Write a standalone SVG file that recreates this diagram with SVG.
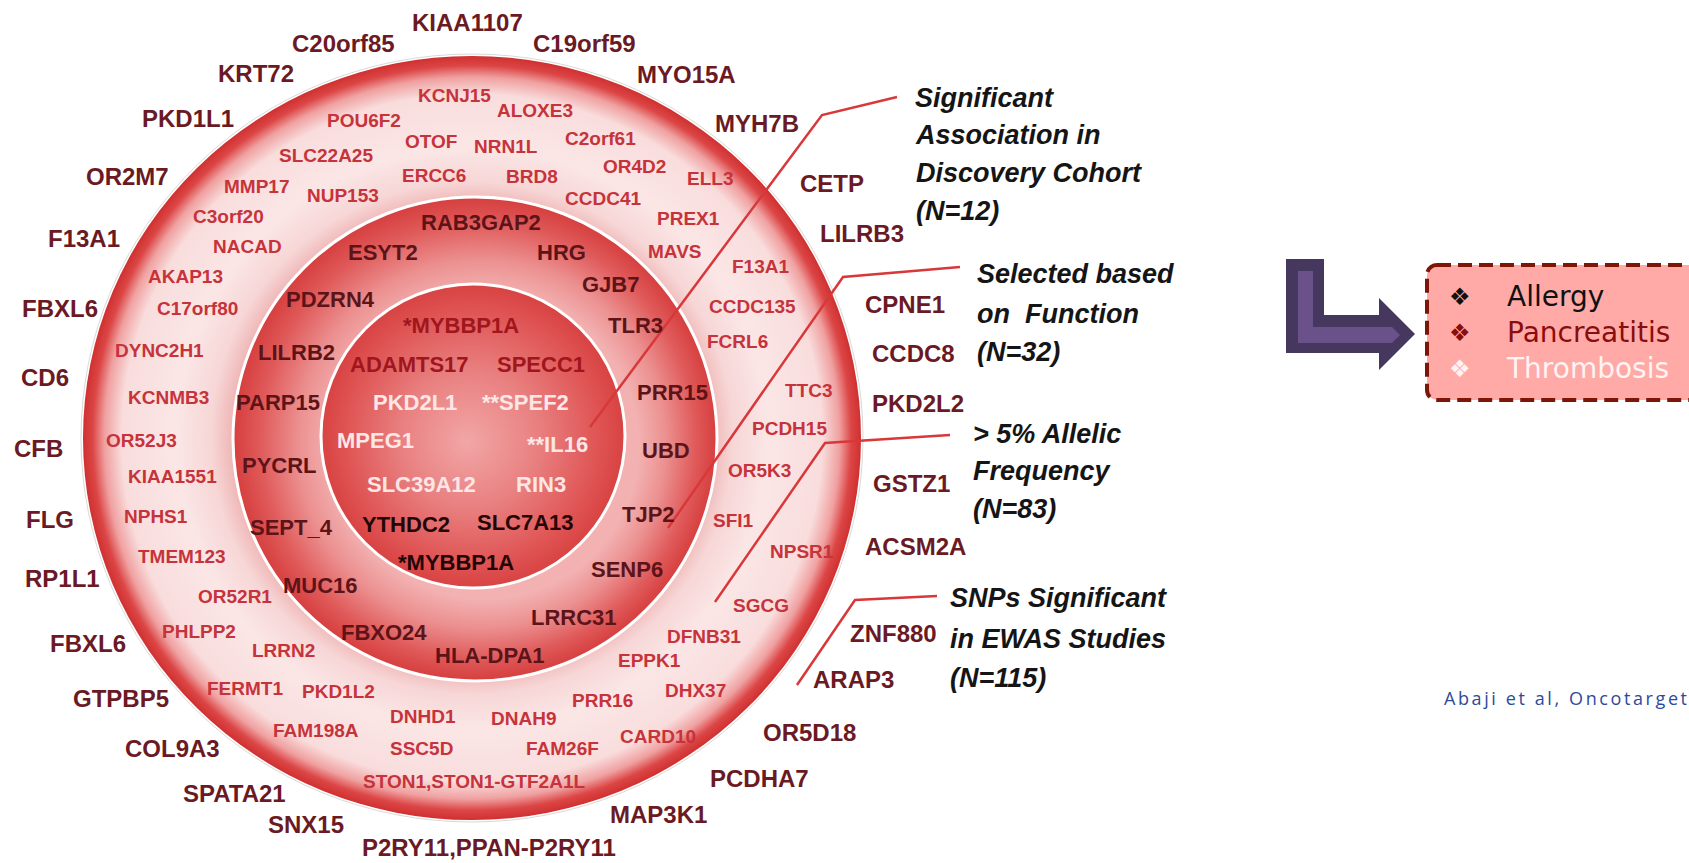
<svg xmlns="http://www.w3.org/2000/svg" width="1689" height="863" viewBox="0 0 1689 863">
<defs>
<radialGradient id="gOuter" cx="0.5" cy="0.5" r="0.5">
<stop offset="0" stop-color="#f4c4c4"/>
<stop offset="0.62" stop-color="#f0b8b8"/>
<stop offset="0.67" stop-color="#f7d6d6"/>
<stop offset="0.76" stop-color="#fbe6e6"/>
<stop offset="0.90" stop-color="#f9dddd"/>
<stop offset="0.945" stop-color="#f0a0a0"/>
<stop offset="0.975" stop-color="#dc4646"/>
<stop offset="1" stop-color="#d03030"/>
</radialGradient>
<radialGradient id="gMid" cx="0.5" cy="0.5" r="0.5" fx="0.56" fy="0.54">
<stop offset="0" stop-color="#f2aaaa"/>
<stop offset="0.63" stop-color="#f3b2b2"/>
<stop offset="0.76" stop-color="#ec9090"/>
<stop offset="0.9" stop-color="#e05a5a"/>
<stop offset="1" stop-color="#d63e3e"/>
</radialGradient>
<radialGradient id="gIn" cx="0.5" cy="0.5" r="0.5" fx="0.48" fy="0.52">
<stop offset="0" stop-color="#f2a6a6"/>
<stop offset="0.45" stop-color="#e98080"/>
<stop offset="0.85" stop-color="#df5252"/>
<stop offset="1" stop-color="#d84242"/>
</radialGradient>
<style>
text{font-family:"Liberation Sans",Arial,sans-serif;font-weight:bold}
.o{font-size:24px;fill:#6b1a24}
.r{font-size:19px;fill:#c6333a}
.m{font-size:22px;fill:#5c1419}
.i{font-size:22px}
.ir{fill:#a0161c}
.iw{fill:#fde6e6}
.ik{fill:#240606}
.cat{font-size:27px;font-style:italic;fill:#151515}
.conn{fill:none;stroke:#d9383a;stroke-width:2.5}
.leg{font-family:"DejaVu Sans",sans-serif;font-weight:normal;font-size:28px}
.bul{font-family:"DejaVu Sans",sans-serif;font-weight:normal;font-size:24px}
</style>
</defs>
<rect width="1689" height="863" fill="#ffffff"/>

<g id="rings">
<ellipse cx="472" cy="438" rx="391" ry="384" fill="none" stroke="#d9d9d9" stroke-width="1"/>
<ellipse id="ring-outer" cx="472" cy="438" rx="389" ry="382" fill="url(#gOuter)"/>
<circle id="ring-middle" cx="475" cy="439" r="242" fill="url(#gMid)" stroke="#ffffff" stroke-width="3"/>
<circle id="ring-inner" cx="473" cy="436" r="152" fill="url(#gIn)" stroke="#ffffff" stroke-width="3"/>
</g>

<g id="connectors">
<polyline class="conn" points="590,427 822,115 897,97"/>
<polyline class="conn" points="668,528 843,277 960,267"/>
<polyline class="conn" points="715,602 825,443 950,435"/>
<polyline class="conn" points="797,685 855,600 937,596"/>
</g>

<g id="outer-genes">
<text class="o" x="412" y="31">KIAA1107</text>
<text class="o" x="292" y="52">C20orf85</text>
<text class="o" x="533" y="52">C19orf59</text>
<text class="o" x="218" y="82">KRT72</text>
<text class="o" x="637" y="83">MYO15A</text>
<text class="o" x="142" y="127">PKD1L1</text>
<text class="o" x="715" y="132">MYH7B</text>
<text class="o" x="86" y="185">OR2M7</text>
<text class="o" x="800" y="192">CETP</text>
<text class="o" x="820" y="242">LILRB3</text>
<text class="o" x="48" y="247">F13A1</text>
<text class="o" x="865" y="313">CPNE1</text>
<text class="o" x="22" y="317">FBXL6</text>
<text class="o" x="872" y="362">CCDC8</text>
<text class="o" x="21" y="386">CD6</text>
<text class="o" x="872" y="412">PKD2L2</text>
<text class="o" x="14" y="457">CFB</text>
<text class="o" x="873" y="492">GSTZ1</text>
<text class="o" x="26" y="528">FLG</text>
<text class="o" x="865" y="555">ACSM2A</text>
<text class="o" x="25" y="587">RP1L1</text>
<text class="o" x="850" y="642">ZNF880</text>
<text class="o" x="50" y="652">FBXL6</text>
<text class="o" x="813" y="688">ARAP3</text>
<text class="o" x="73" y="707">GTPBP5</text>
<text class="o" x="763" y="741">OR5D18</text>
<text class="o" x="125" y="757">COL9A3</text>
<text class="o" x="710" y="787">PCDHA7</text>
<text class="o" x="183" y="802">SPATA21</text>
<text class="o" x="610" y="823">MAP3K1</text>
<text class="o" x="268" y="833">SNX15</text>
<text class="o" x="362" y="856">P2RY11,PPAN-P2RY11</text>
</g>

<g id="outer-ring-genes">
<text class="r" x="418" y="102">KCNJ15</text>
<text class="r" x="497" y="117">ALOXE3</text>
<text class="r" x="327" y="127">POU6F2</text>
<text class="r" x="565" y="145">C2orf61</text>
<text class="r" x="405" y="148">OTOF</text>
<text class="r" x="474" y="153">NRN1L</text>
<text class="r" x="279" y="162">SLC22A25</text>
<text class="r" x="603" y="173">OR4D2</text>
<text class="r" x="402" y="182">ERCC6</text>
<text class="r" x="506" y="183">BRD8</text>
<text class="r" x="687" y="185">ELL3</text>
<text class="r" x="224" y="193">MMP17</text>
<text class="r" x="307" y="202">NUP153</text>
<text class="r" x="565" y="205">CCDC41</text>
<text class="r" x="193" y="223">C3orf20</text>
<text class="r" x="657" y="225">PREX1</text>
<text class="r" x="213" y="253">NACAD</text>
<text class="r" x="648" y="258">MAVS</text>
<text class="r" x="732" y="273">F13A1</text>
<text class="r" x="148" y="283">AKAP13</text>
<text class="r" x="709" y="313">CCDC135</text>
<text class="r" x="157" y="315">C17orf80</text>
<text class="r" x="707" y="348">FCRL6</text>
<text class="r" x="115" y="357">DYNC2H1</text>
<text class="r" x="785" y="397">TTC3</text>
<text class="r" x="128" y="404">KCNMB3</text>
<text class="r" x="752" y="435">PCDH15</text>
<text class="r" x="106" y="447">OR52J3</text>
<text class="r" x="728" y="477">OR5K3</text>
<text class="r" x="128" y="483">KIAA1551</text>
<text class="r" x="124" y="523">NPHS1</text>
<text class="r" x="713" y="527">SFI1</text>
<text class="r" x="770" y="558">NPSR1</text>
<text class="r" x="138" y="563">TMEM123</text>
<text class="r" x="198" y="603">OR52R1</text>
<text class="r" x="733" y="612">SGCG</text>
<text class="r" x="162" y="638">PHLPP2</text>
<text class="r" x="667" y="643">DFNB31</text>
<text class="r" x="252" y="657">LRRN2</text>
<text class="r" x="618" y="667">EPPK1</text>
<text class="r" x="207" y="695">FERMT1</text>
<text class="r" x="665" y="697">DHX37</text>
<text class="r" x="302" y="698">PKD1L2</text>
<text class="r" x="572" y="707">PRR16</text>
<text class="r" x="390" y="723">DNHD1</text>
<text class="r" x="491" y="725">DNAH9</text>
<text class="r" x="273" y="737">FAM198A</text>
<text class="r" x="620" y="743">CARD10</text>
<text class="r" x="390" y="755">SSC5D</text>
<text class="r" x="526" y="755">FAM26F</text>
<text class="r" x="363" y="788">STON1,STON1-GTF2A1L</text>
</g>

<g id="middle-ring-genes">
<text class="m" x="421" y="230">RAB3GAP2</text>
<text class="m" x="348" y="260">ESYT2</text>
<text class="m" x="537" y="260">HRG</text>
<text class="m" x="582" y="292">GJB7</text>
<text class="m" x="286" y="307">PDZRN4</text>
<text class="m" x="608" y="333">TLR3</text>
<text class="m" x="258" y="360">LILRB2</text>
<text class="m" x="637" y="400">PRR15</text>
<text class="m" x="236" y="410">PARP15</text>
<text class="m" x="642" y="458">UBD</text>
<text class="m" x="242" y="473">PYCRL</text>
<text class="m" x="622" y="522">TJP2</text>
<text class="m" x="250" y="535">SEPT_4</text>
<text class="m" x="591" y="577">SENP6</text>
<text class="m" x="283" y="593">MUC16</text>
<text class="m" x="531" y="625">LRRC31</text>
<text class="m" x="341" y="640">FBXO24</text>
<text class="m" x="435" y="663">HLA-DPA1</text>
</g>

<g id="inner-genes">
<text class="i ir" x="403" y="333">*MYBBP1A</text>
<text class="i ir" x="350" y="372">ADAMTS17</text>
<text class="i ir" x="497" y="372">SPECC1</text>
<text class="i iw" x="373" y="410">PKD2L1</text>
<text class="i iw" x="482" y="410">**SPEF2</text>
<text class="i iw" x="337" y="448">MPEG1</text>
<text class="i iw" x="527" y="452">**IL16</text>
<text class="i iw" x="367" y="492">SLC39A12</text>
<text class="i iw" x="516" y="492">RIN3</text>
<text class="i ik" x="362" y="532">YTHDC2</text>
<text class="i ik" x="477" y="530">SLC7A13</text>
<text class="i ik" x="398" y="570">*MYBBP1A</text>
</g>

<g id="cat-discovery">
<text class="cat" x="915" y="107">Significant</text>
<text class="cat" x="916" y="144">Association in</text>
<text class="cat" x="916" y="182">Discovery Cohort</text>
<text class="cat" x="916" y="220">(N=12)</text>
</g>
<g id="cat-function">
<text class="cat" x="977" y="283">Selected based</text>
<text class="cat" x="977" y="323" xml:space="preserve">on  Function</text>
<text class="cat" x="977" y="361">(N=32)</text>
</g>
<g id="cat-allelic">
<text class="cat" x="973" y="443">&gt; 5% Allelic</text>
<text class="cat" x="973" y="480">Frequency</text>
<text class="cat" x="973" y="518">(N=83)</text>
</g>
<g id="cat-ewas">
<text class="cat" x="950" y="607">SNPs Significant</text>
<text class="cat" x="950" y="648">in EWAS Studies</text>
<text class="cat" x="950" y="687">(N=115)</text>
</g>

<g id="arrow">
<polygon points="1286,259 1324,259 1324,315 1379,315 1379,298 1415,334 1379,370 1379,353 1286,353" fill="#46375e"/>
<polygon points="1298,271 1313,271 1313,327 1392,327 1400,335 1392,343 1298,343" fill="#6b5189"/>
</g>

<g id="legend">
<rect x="1427" y="265" width="300" height="135" rx="10" fill="#ffaaa6" stroke="#7e1608" stroke-width="4" stroke-dasharray="14 7"/>
<text class="bul" x="1449" y="305" fill="#111111">❖</text>
<text class="leg" x="1507" y="306" fill="#111111">Allergy</text>
<text class="bul" x="1449" y="341" fill="#8a0c0c">❖</text>
<text class="leg" x="1507" y="342" fill="#8a0c0c">Pancreatitis</text>
<text class="bul" x="1449" y="377" fill="#fff3f3">❖</text>
<text class="leg" x="1507" y="378" fill="#fff3f3">Thrombosis</text>
</g>

<g id="citation">
<text x="1444" y="705" style="font-family:'Open Sans','Liberation Sans',sans-serif;font-weight:normal;font-size:18px;letter-spacing:2.6px" fill="#2e4a9a">Abaji et al, Oncotarget</text>
</g>
</svg>
